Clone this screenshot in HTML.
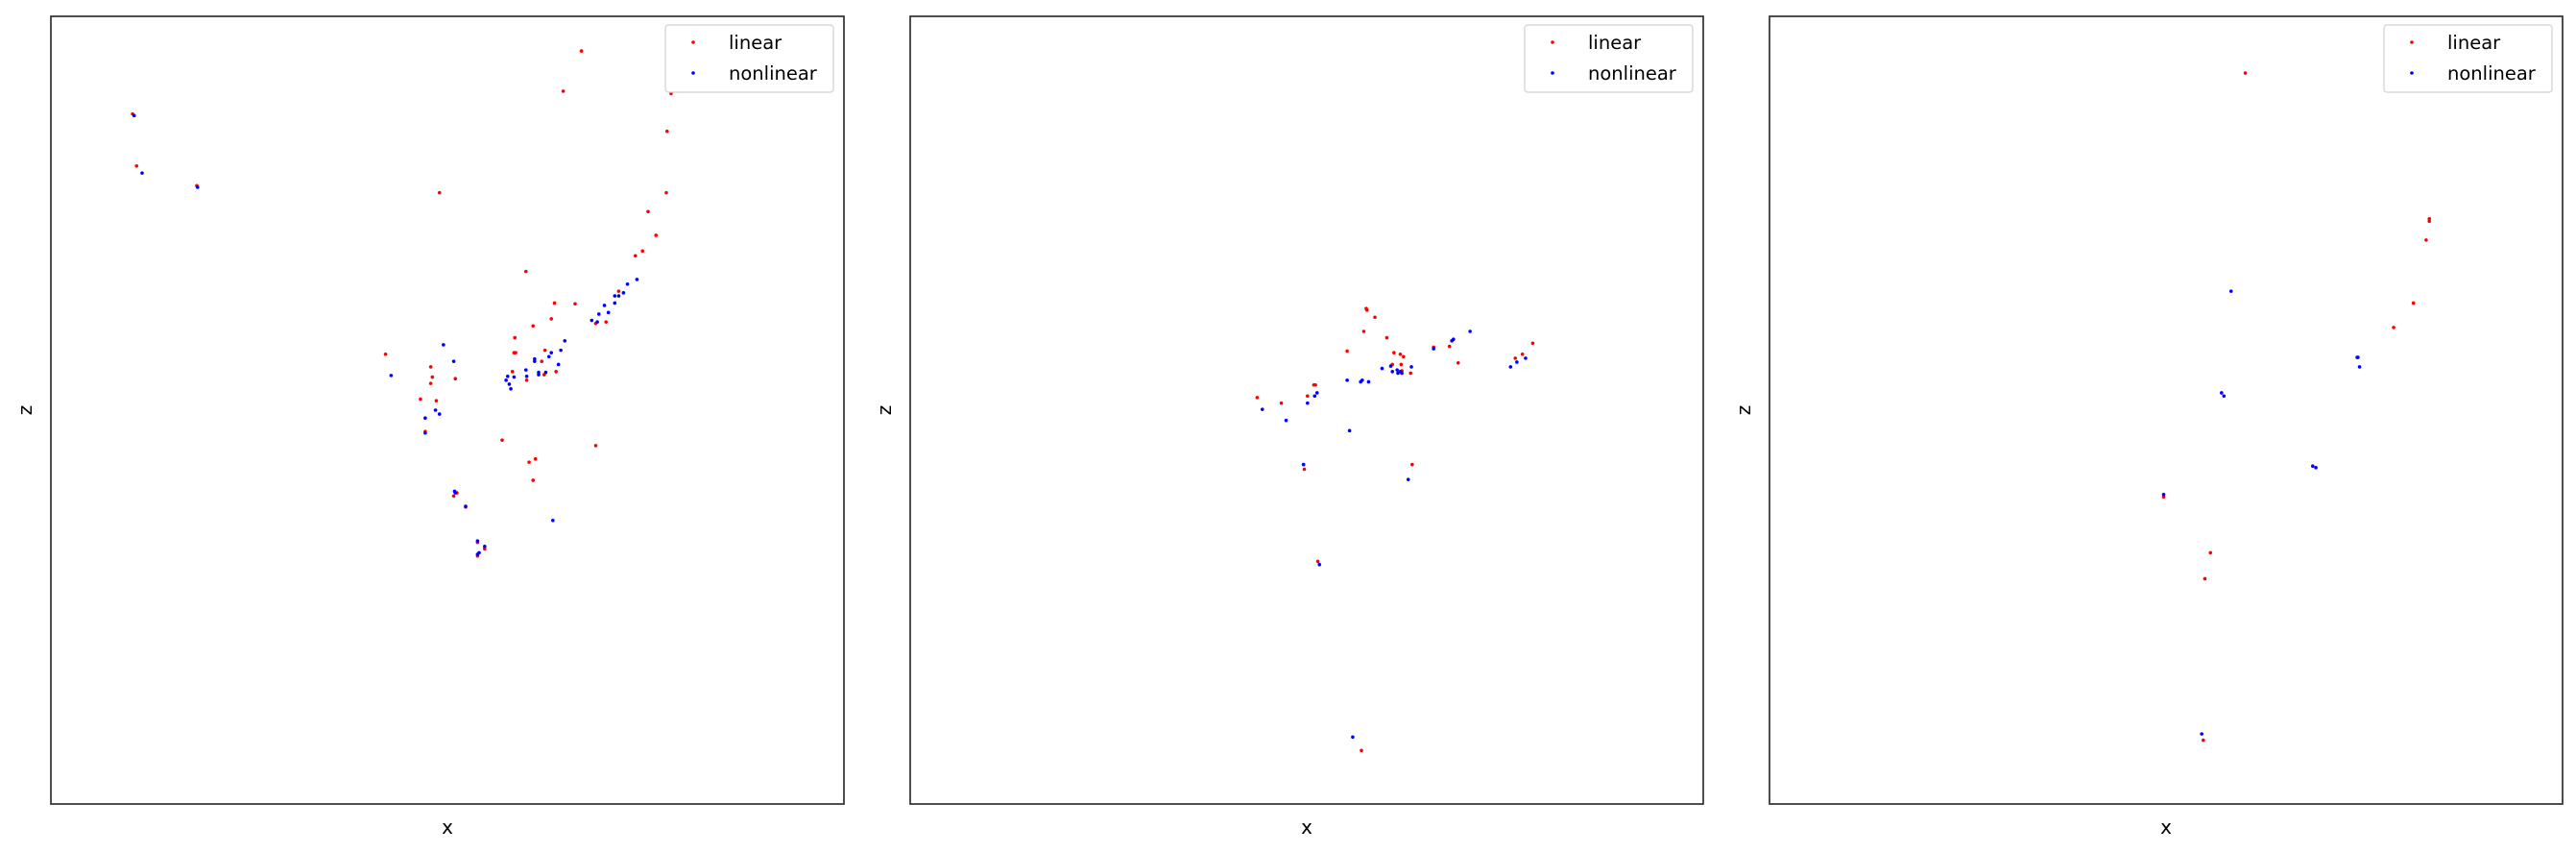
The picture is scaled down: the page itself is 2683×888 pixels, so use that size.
<!DOCTYPE html>
<html><head><meta charset="utf-8"><style>
html,body{margin:0;padding:0;background:#fff;}
svg{display:block;font-family:"DejaVu Sans","Liberation Sans",sans-serif;}
</style></head>
<body>
<svg id="chart" width="2683" height="888" viewBox="0 0 2683 888" xmlns="http://www.w3.org/2000/svg"></svg>
<script>
// Panel 1 data (x, z in normalized data units 0..100)
const p1LinearX = [10.3,10.8,18.4,49.0,66.9,64.6,78.2,77.7,77.6,75.3,76.3,73.7,74.6,59.9,63.5,66.1,63.1,60.8,71.6,70.0,68.7,58.5,58.4,58.6,62.3,61.9,63.7,58.2,60.0,62.2,42.2,47.9,48.1,47.9,51.0,46.6,48.6,47.2,56.9,68.7,61.1,60.3,60.8,50.8,51.2,52.3,53.8,54.7,53.8];
const p1LinearZ = [87.6,81.0,78.5,77.6,95.6,90.5,90.2,85.4,77.6,75.2,72.2,69.6,70.2,67.6,63.6,63.5,61.6,60.7,65.1,61.2,61.0,59.2,57.3,57.3,57.6,56.2,54.9,54.9,53.8,54.5,57.1,55.5,54.2,53.4,54.0,51.4,51.2,47.3,46.2,45.5,43.8,43.4,41.1,39.1,39.5,37.7,31.5,32.4,33.2];
const p1NonlinX = [10.5,11.5,18.5,49.5,50.8,42.9,47.2,48.5,49.0,47.2,57.6,57.4,57.8,58.0,58.4,59.9,60.0,61.0,61.0,61.5,61.5,62.4,62.8,63.1,64.0,64.3,64.8,68.2,68.9,69.1,69.8,70.3,71.1,71.1,71.6,72.2,72.7,73.9,50.9,51.0,52.3,53.8,53.8,54.0,54.7,63.3];
const p1NonlinZ = [87.4,80.1,78.3,58.3,56.2,54.4,49.0,50.0,49.5,47.1,54.3,53.8,53.3,52.7,54.2,55.1,54.3,56.5,56.2,54.8,54.5,54.8,56.8,57.3,55.8,57.6,58.8,61.4,61.2,62.2,63.3,62.4,63.6,64.5,64.5,64.9,66.0,66.6,39.7,39.5,37.8,33.4,31.7,31.9,32.7,36.0];
// Panel 2
const p2LinearX = [43.75,46.8,50.1,50.9,51.1,55.1,57.2,57.5,57.6,58.6,60.1,61.0,60.8,61.8,62.2,61.9,62.0,63.1,63.3,49.7,51.4,56.9,66.0,68.0,69.1,76.3,77.2,78.5];
const p2LinearZ = [51.6,50.9,51.8,53.2,53.2,57.5,60.0,62.9,62.7,61.8,59.2,57.3,55.8,57.1,56.8,55.8,55.0,54.7,43.1,42.5,30.8,6.8,58.0,58.1,56.0,56.6,57.1,58.5];
const p2NonlinX = [44.4,47.4,50.1,51.0,51.3,55.1,56.8,57.0,57.8,55.4,49.6,51.6,55.8,59.5,60.6,60.8,61.4,61.5,61.8,62.0,62.8,63.2,66.0,68.3,68.5,70.6,75.7,76.5,77.6];
const p2NonlinZ = [50.1,48.7,50.9,51.8,52.2,53.8,53.6,53.8,53.6,47.4,43.1,30.4,8.5,55.3,55.6,54.9,55.1,54.7,54.9,54.7,41.2,55.5,57.8,58.8,59.0,60.0,55.5,56.1,56.6];
// Panel 3
const p3LinearX = [60.0,83.2,83.2,82.8,81.2,78.7,49.7,55.6,54.9,54.7];
const p3LinearZ = [92.8,74.3,74.0,71.6,63.6,60.5,39.0,31.9,28.6,8.1];
const p3NonlinX = [58.2,74.1,74.2,74.4,57.0,57.3,68.5,68.9,49.7,54.5];
const p3NonlinZ = [65.1,56.7,56.7,55.5,52.2,51.8,42.9,42.7,39.3,8.9];
const seriesNames = ["linear","nonlinear"];
const xLabel = "x", zLabel = "z";

const NS = "http://www.w3.org/2000/svg";
const svg = document.getElementById('chart');
const panels = [
  {left:53, lx:p1LinearX, lz:p1LinearZ, nx:p1NonlinX, nz:p1NonlinZ},
  {left:948, lx:p2LinearX, lz:p2LinearZ, nx:p2NonlinX, nz:p2NonlinZ},
  {left:1843, lx:p3LinearX, lz:p3LinearZ, nx:p3NonlinX, nz:p3NonlinZ}
];
const TOP = 17, W = 826, H = 820;
function mk(tag, attrs){const e=document.createElementNS(NS,tag);for(const k in attrs)e.setAttribute(k,attrs[k]);return e;}

panels.forEach((p, i) => {
  const g = mk('g', {});
  
  
  svg.appendChild(g);
  const sx = v => p.left + v / 100 * W;
  const sy = v => TOP + H - v / 100 * H;

  const drawSeries = (xs, zs, color, nm) => {
    const sg = mk('g', {});
    
    
    g.appendChild(sg);
    xs.forEach((x, k) => {
      const c = mk('circle', {cx: sx(x), cy: sy(zs[k]), r: 1.8, fill: color});
      
      
      sg.appendChild(c);
    });
  };
  drawSeries(p.lx, p.lz, '#ff0000', 'linear');
  drawSeries(p.nx, p.nz, '#0000ff', 'nonlinear');

  const frame = mk('rect', {x: p.left, y: TOP, width: W, height: H, fill: 'none', stroke: '#222', 'stroke-width': 1.6});
  
  
  g.appendChild(frame);

  const xl = mk('text', {x: p.left + W/2, y: 868, 'font-size': 20, 'text-anchor': 'middle', fill: '#000'});
  xl.textContent = xLabel;
  
  
  g.appendChild(xl);

  const zx = p.left - 20, zy = TOP + H/2;
  const zl = mk('text', {x: zx, y: zy, 'font-size': 20, 'text-anchor': 'middle', fill: '#000', transform: 'rotate(-90 ' + zx + ' ' + zy + ')'});
  zl.textContent = zLabel;
  
  
  g.appendChild(zl);

  // legend
  const lg = mk('g', {});
  
  
  g.appendChild(lg);
  const lw = 175, lh = 70, lx = p.left + W - 11 - lw, ly = 26;
  lg.appendChild(mk('rect', {x: lx, y: ly, width: lw, height: lh, rx: 3, fill: '#fff', 'fill-opacity': 0.8, stroke: '#d0d0d0', 'stroke-width': 1.2}));
  seriesNames.forEach((n, k) => {
    const e = mk('g', {});
    
    
    lg.appendChild(e);
    e.appendChild(mk('circle', {cx: lx + 29, cy: ly + 18 + k*32, r: 1.8, fill: k === 0 ? '#ff0000' : '#0000ff'}));
    const t = mk('text', {x: lx + 66, y: ly + 25 + k*32, 'font-size': 19.5, fill: '#000'});
    t.textContent = n;
    e.appendChild(t);
  });
});
</script>
</body></html>
